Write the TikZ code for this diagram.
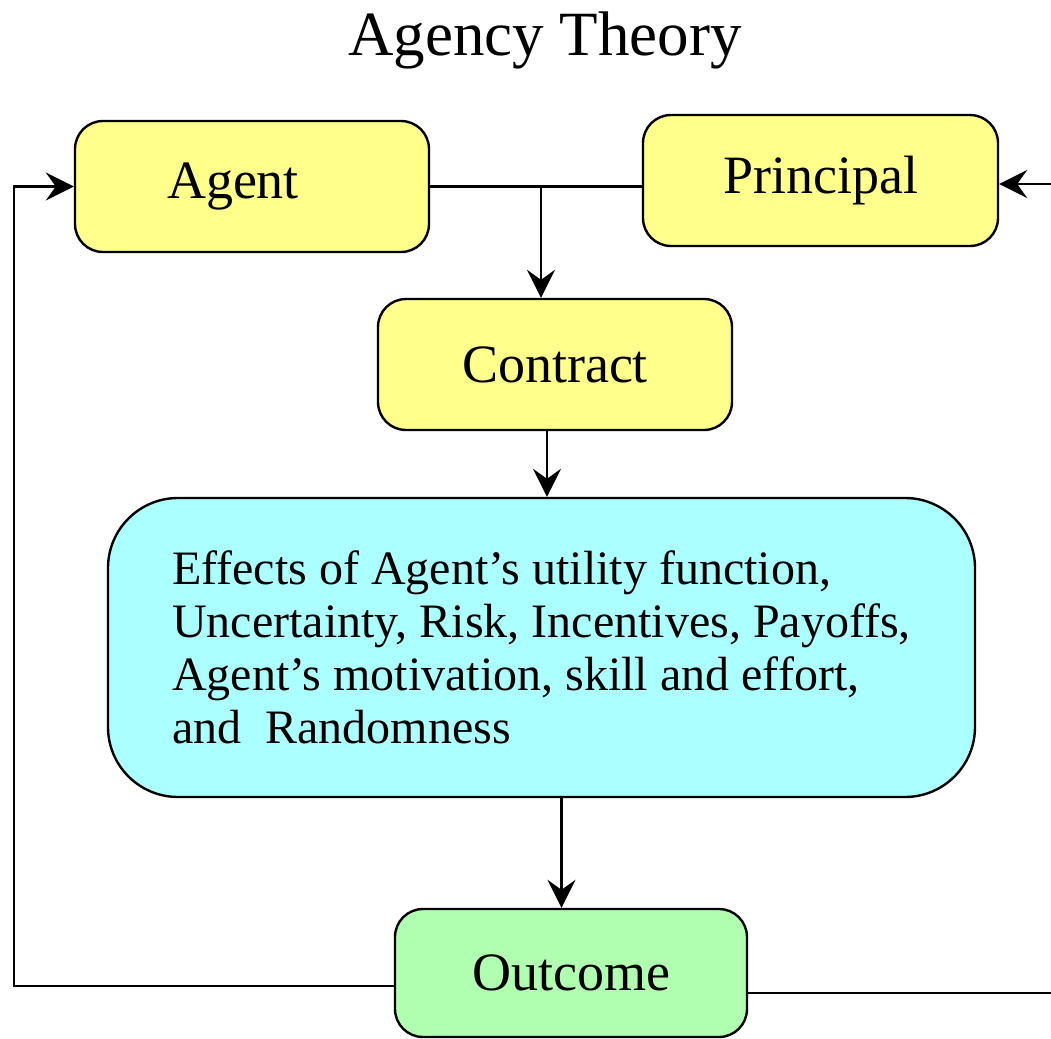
\documentclass[tikz,border=0pt]{standalone}
\usepackage{fontspec}
\setmainfont{Liberation Serif}
\usetikzlibrary{arrows.meta}

\definecolor{boxyellow}{RGB}{255,255,140}
\definecolor{boxcyan}{RGB}{172,255,255}
\definecolor{boxgreen}{RGB}{176,255,176}

\begin{document}
\begin{tikzpicture}[x=0.5pt, y=-0.5pt, line width=1.2pt,
    box/.style={draw, rounded corners=14pt, minimum width=177pt, minimum height=65.5pt, font=\fontsize{27}{32}\selectfont},
    arr/.style={-{Stealth[length=14pt, width=14pt, inset=5pt]}}]
    \useasboundingbox (0, 0) rectangle (1051, 1039);
    \node[anchor=base, font=\fontsize{31.5}{36}\selectfont] (title) at (545, 55) {Agency Theory};
    
    \node[box, fill=boxyellow] (agent) at (252, 186.5) {\hspace*{-19pt}Agent};
    \node[box, fill=boxyellow, minimum width=177.5pt] (principal) at (820.5, 180.5) {Principal};
    \node[box, fill=boxyellow] (contract) at (555, 364.5) {Contract};
    \node[box, fill=boxcyan, minimum width=433.5pt, minimum height=149.5pt, rounded corners=35pt,
        align=left, font=\fontsize{24}{26.5}\selectfont] (effects) at (541.5, 647.5)
        {Effects of Agent’s utility function,\\Uncertainty, Risk, Incentives, Payoffs,\\Agent’s motivation, skill and effort,\\and~ Randomness};
    \node[box, fill=boxgreen, minimum width=176pt, minimum height=64pt] (outcome) at (571, 973) {Outcome};
    
    \coordinate (split) at (541, 186.5);
    \coordinate (loopleft) at (14, 986);
    \coordinate (rightin) at (1051, 184);
    \coordinate (rightout) at (1051, 993);
    
    \draw (agent.east) -- (agent.east -| principal.west);
    \draw[arr] (split) -- (split |- contract.north);
    \draw[arr] ([xshift=-4pt]contract.south) -- ([xshift=-4pt]contract.south |- effects.north);
    \draw[arr] ([xshift=10pt]effects.south) -- ([xshift=10pt]effects.south |- outcome.north);
    \draw[arr] ([yshift=-6.5pt]outcome.west) -- (loopleft) |- (agent.west);
    \draw ([yshift=-10pt]outcome.east) -- (rightout);
    \draw[arr] (rightin) -- (rightin -| principal.east);
    
\end{tikzpicture}
\end{document}
